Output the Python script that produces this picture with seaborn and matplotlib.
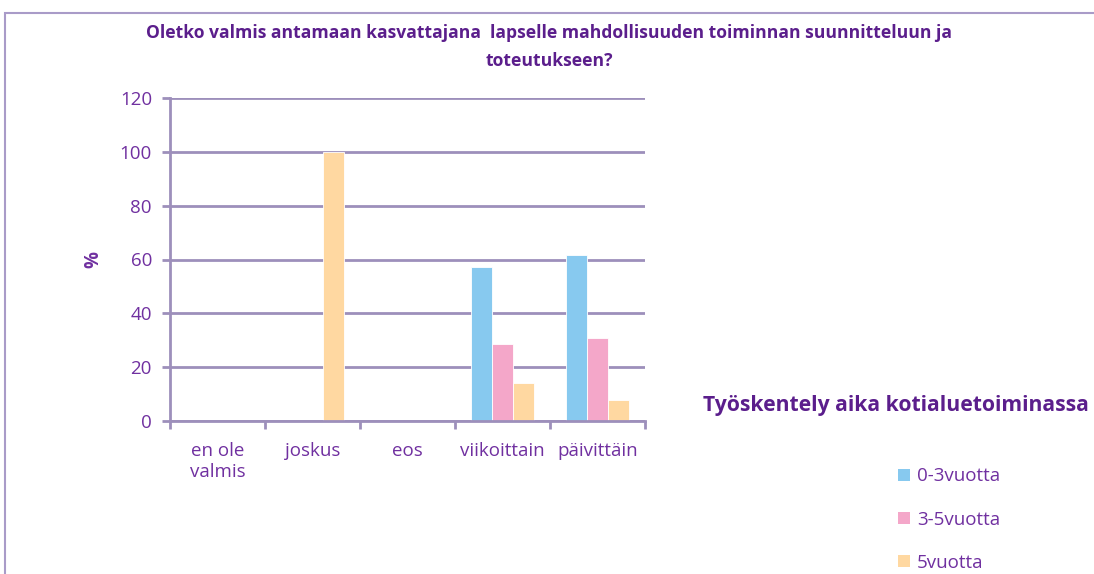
import numpy as np
import pandas as pd
import matplotlib
matplotlib.use("Agg")
import matplotlib.pyplot as plt
import seaborn as sns
from matplotlib.patches import Rectangle

categories = ["en ole\nvalmis", "joskus", "eos", "viikoittain", "päivittäin"]
groups = ["0-3vuotta", "3-5vuotta", "5vuotta"]
vals_0_3 = [0, 0, 0, 57.1, 61.5]
vals_3_5 = [0, 0, 0, 28.6, 30.8]
vals_5 = [0, 100, 0, 14.3, 7.7]

colors = ["#87C9EF", "#F4A7C9", "#FFD8A1"]
purple = "#7030A0"
dark_purple = "#5B1E8C"
grid_col = "#9D8FBB"

rows = []
for g, vals in zip(groups, [vals_0_3, vals_3_5, vals_5]):
    for c, v in zip(categories, vals):
        rows.append({"category": c, "group": g, "value": v})
df = pd.DataFrame(rows)

sns.set_style("white")
plt.rcParams["font.family"] = ["Open Sans", "DejaVu Sans"]

fig = plt.figure(figsize=(10.94, 5.74), dpi=100)
ax = fig.add_axes([170 / 1094, 1 - 421 / 574, 475 / 1094, 323 / 574])

sns.barplot(data=df, x="category", y="value", hue="group", order=categories,
            hue_order=groups, palette=colors, saturation=1, width=0.667, ax=ax,
            edgecolor="white", linewidth=0.6, legend=False, errorbar=None)

ax.set_ylim(0, 120)
ax.set_xlim(-0.5, 4.5)
ax.set_yticks(np.arange(0, 121, 20))
ax.yaxis.grid(True, color=grid_col, linewidth=2)
ax.set_axisbelow(True)
for s in ["top", "right"]:
    ax.spines[s].set_visible(False)
for s in ["left", "bottom"]:
    ax.spines[s].set_color(grid_col)
    ax.spines[s].set_linewidth(2)

ax.tick_params(axis="y", colors=grid_col, length=6, width=2, labelcolor=purple,
               labelsize=13.5, left=True, direction="out", pad=7)
ax.set_xticks(np.arange(-0.5, 5, 1), minor=True)
ax.tick_params(axis="x", which="major", length=0, labelcolor=purple, labelsize=13.5, pad=15)
ax.tick_params(axis="x", which="minor", length=6, width=2, color=grid_col, bottom=True)
ax.set_xlabel("")
ax.set_ylabel("%", color=purple, fontsize=13.5, fontweight="bold", labelpad=12)

fig.text(549 / 1094, 1 - 47 / 574,
         "Oletko valmis antamaan kasvattajana  lapselle mahdollisuuden toiminnan suunnitteluun ja\ntoteutukseen?",
         ha="center", va="center", color=dark_purple, fontsize=12.6, fontweight="bold",
         linespacing=1.7)

fig.text(703 / 1094, 1 - 405 / 574, "Työskentely aika kotialuetoiminassa",
         ha="left", va="center", color=dark_purple, fontsize=15.2, fontweight="bold")

handles = [Rectangle((0, 0), 1, 1, facecolor=c, edgecolor="none") for c in colors]
leg = fig.legend(handles, groups, loc="upper left", bbox_to_anchor=(889 / 1094, 1 - 458 / 574),
                 frameon=False, fontsize=13.5, labelspacing=1.35, handlelength=0.6,
                 handleheight=0.6, handletextpad=0.4, borderpad=0)
for t in leg.get_texts():
    t.set_color(purple)

border = Rectangle((5 / 1094, -0.1), 1.2, 1 - 13 / 574 + 0.1, transform=fig.transFigure,
                   fill=False, edgecolor="#A99BC8", linewidth=1.5, clip_on=False)
fig.patches.append(border)

fig.savefig("out.png", dpi=100)
